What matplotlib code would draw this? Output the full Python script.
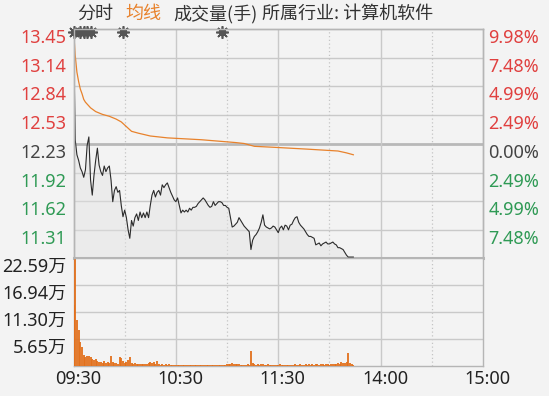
import numpy as np
import matplotlib.pyplot as plt
from matplotlib.transforms import ScaledTranslation

plt.rcParams['font.family'] = ['Noto Sans', 'Noto Sans CJK SC', 'DejaVu Sans']

# 分时价格, 每分钟一个点 (09:30 起)
price = [13.45, 12.27, 12.11, 12.05, 11.97, 11.93, 11.87, 11.95, 12.21, 12.30,
         11.84, 11.68, 11.89, 12.05, 12.18, 12.00, 11.93, 11.89, 11.99, 11.93,
         11.97, 11.99, 11.84, 11.61, 11.73, 11.77, 11.71, 11.73, 11.57, 11.45,
         11.52, 11.44, 11.31, 11.22, 11.41, 11.35, 11.44, 11.48, 11.41, 11.50,
         11.44, 11.49, 11.44, 11.50, 11.44, 11.57, 11.68, 11.73, 11.66, 11.71,
         11.73, 11.68, 11.79, 11.76, 11.79, 11.81, 11.76, 11.71, 11.67, 11.63,
         11.61, 11.65, 11.57, 11.49, 11.52, 11.50, 11.52, 11.50, 11.54, 11.52,
         11.55, 11.55, 11.56, 11.59, 11.61, 11.63, 11.65, 11.63, 11.60, 11.57,
         11.55, 11.56, 11.61, 11.57, 11.59, 11.61, 11.61, 11.60, 11.57, 11.57,
         11.55, 11.54, 11.44, 11.34, 11.35, 11.37, 11.39, 11.44, 11.41, 11.38,
         11.35, 11.33, 11.31, 11.29, 11.10, 11.20, 11.24, 11.26, 11.29, 11.33,
         11.39, 11.47, 11.36, 11.34, 11.33, 11.32, 11.33, 11.35, 11.34, 11.31,
         11.28, 11.33, 11.35, 11.31, 11.36, 11.35, 11.31, 11.36, 11.37, 11.41,
         11.44, 11.45, 11.39, 11.36, 11.34, 11.32, 11.29, 11.26, 11.24, 11.24,
         11.23, 11.22, 11.15, 11.16, 11.17, 11.14, 11.16, 11.17, 11.18, 11.16,
         11.16, 11.17, 11.18, 11.16, 11.15, 11.12, 11.12, 11.11, 11.10, 11.07,
         11.04, 11.02, 11.02, 11.02, 11.02]

# 成交量 (万手)
volume = [12.8, 22.59, 9.6, 7.5, 5.1, 3.9, 2.3, 1.8, 2.1, 2.1,
          1.9, 1.5, 1.3, 1.4, 1.0, 0.8, 0.8, 0.7, 1.0, 0.7,
          0.9, 0.6, 2.1, 0.8, 0.6, 0.6, 0.5, 1.9, 1.6, 1.0,
          0.6, 0.8, 1.2, 1.9, 0.6, 0.5, 0.6, 0.5, 0.5, 0.5,
          0.4, 0.4, 0.5, 0.4, 0.6, 0.9, 0.6, 0.8, 0.5, 1.0,
          0.4, 0.3, 0.4, 0.3, 0.5, 0.3, 0.4, 0.3, 0.2, 0.3,
          0.3, 0.2, 0.3, 0.2, 0.3, 0.2, 0.3, 0.2, 0.2, 0.3,
          0.2, 0.3, 0.2, 0.2, 0.3, 0.2, 0.2, 0.3, 0.2, 0.2,
          0.3, 0.2, 0.2, 0.3, 0.2, 0.3, 0.2, 0.2, 0.3, 0.3,
          0.4, 0.5, 0.4, 0.6, 0.5, 0.4, 0.5, 0.4, 0.3, 0.3,
          0.3, 0.3, 0.4, 0.3, 3.1, 0.6, 0.4, 0.3, 0.4, 0.3,
          0.5, 0.4, 0.3, 0.3, 0.4, 0.3, 0.3, 0.2, 0.3, 0.3,
          0.3, 0.4, 0.3, 0.3, 0.2, 0.3, 0.3, 0.2, 0.3, 0.3,
          0.4, 0.3, 0.3, 0.4, 0.3, 0.3, 0.4, 0.3, 0.4, 0.3,
          0.4, 0.3, 0.5, 0.4, 0.3, 0.4, 0.5, 0.3, 0.4, 0.4,
          0.3, 0.5, 0.4, 0.4, 0.5, 0.6, 0.5, 0.8, 0.6, 0.7,
          0.8, 2.7, 0.6, 0.4, 0.3]

# 均线
avg_min = [0, 1, 2, 3, 4, 5, 6, 7, 8, 10, 13, 17, 21, 25, 28, 31, 34, 38, 45,
           55, 75, 95, 100, 102, 106, 117, 137, 155, 160, 164]
avg_val = [13.45, 13.17, 12.99, 12.89, 12.81, 12.76, 12.70, 12.67, 12.65, 12.61,
           12.57, 12.54, 12.52, 12.49, 12.46, 12.41, 12.36, 12.34, 12.31, 12.29,
           12.27, 12.24, 12.23, 12.22, 12.20, 12.19, 12.17, 12.15, 12.13, 12.11]

event_min = [0, 4, 6, 8, 10, 29, 87]

price_ticks = [13.45, 13.14, 12.84, 12.53, 12.23, 11.92, 11.62, 11.31]
pct_labels = ['9.98%', '7.48%', '4.99%', '2.49%', '0.00%', '2.49%', '4.99%', '7.48%']
vol_ticks = [22.59, 16.94, 11.30, 5.65]
time_ticks = [0, 60, 120, 180, 240]
time_labels = ['09:30', '10:30', '11:30', '14:00', '15:00']

red, green, gray = '#e0403f', '#2f9a55', '#444444'
tick_colors = [red] * 4 + [gray] + [green] * 3
bg = '#f3f3f3'
grid_c = '#c9c9c9'
fs = 13

fig = plt.figure(figsize=(5.49, 3.96), dpi=100, facecolor=bg)
W, H = 549, 396
ax = fig.add_axes([73.5 / W, 1 - 258 / H, (483 - 73.5) / W, (258 - 29) / H], facecolor=bg)
axv = fig.add_axes([73.5 / W, 1 - 366 / H, (483 - 73.5) / W, (366 - 258) / H], facecolor=bg, sharex=ax)

t = np.arange(len(price))
p_lo, p_hi = 11.01, 13.45

# 价格区
ax.set_ylim(p_lo, p_hi)
ax.set_xlim(0, 240)
for v in price_ticks[1:]:
    lw = 2 if v == 12.23 else 1
    c = '#b8b8b8' if v == 12.23 else grid_c
    ax.axhline(v, color=c, lw=lw, zorder=0)
for m in [60, 120, 180]:
    ax.axvline(m, color=grid_c, lw=1, zorder=0)
    axv.axvline(m, color=grid_c, lw=1, zorder=0)
for m in [30, 90, 150, 210]:
    ax.axvline(m, color='#c4c4c4', lw=0.9, ls=(0, (1, 2)), zorder=0)
    axv.axvline(m, color='#c4c4c4', lw=0.9, ls=(0, (1, 2)), zorder=0)

ax.fill_between(t, price, p_lo, color='#e2e2e2', alpha=0.45, lw=0, zorder=1)
ax.plot(t, price, color='#2b2b2b', lw=0.8, zorder=3)
ax.plot(avg_min, avg_val, color='#e8822c', lw=0.9, zorder=2)
ax.plot(event_min, [13.42] * len(event_min), 'o', color='#555555', ms=4.5,
        clip_on=False, zorder=5)
ax.plot(event_min, [13.42] * len(event_min), marker=(8, 2, 0), ls='none',
        color='#555555', ms=9, mew=1.2, clip_on=False, zorder=5)

ax.set_yticks(price_ticks)
ax.set_yticklabels(['%.2f' % v for v in price_ticks], fontsize=fs)
for lab, c in zip(ax.get_yticklabels(), tick_colors):
    lab.set_color(c)
    lab.set_va('top')
ax.tick_params(axis='y', length=0, pad=5)
ax.tick_params(axis='x', length=0, labelbottom=False)

axr = ax.twinx()
axr.set_ylim(p_lo, p_hi)
axr.set_yticks(price_ticks)
axr.set_yticklabels(pct_labels, fontsize=fs)
for lab, c in zip(axr.get_yticklabels(), tick_colors):
    lab.set_color(c)
    lab.set_va('top')
axr.tick_params(axis='y', length=0, pad=4)

for a in (ax, axr):
    for s in a.spines.values():
        s.set_color('#b5b5b5')
        s.set_linewidth(1)
ax.spines['bottom'].set_linewidth(2.2)

# 成交量区
axv.vlines(t, 0, volume, color='#e2701c', lw=1.3, zorder=3)
axv.set_ylim(0, 22.59)
for v in vol_ticks[1:]:
    axv.axhline(v, color=grid_c, lw=1, zorder=0)
axv.set_yticks(vol_ticks)
axv.set_yticklabels(['%.2f万' % v for v in vol_ticks], fontsize=fs, color='#222222')
for lab in axv.get_yticklabels():
    lab.set_va('top')
axv.tick_params(axis='y', length=0, pad=5)
axv.set_xticks(time_ticks)
axv.set_xticklabels(time_labels, fontsize=fs, color='#222222')
axv.tick_params(axis='x', length=0, pad=3)
shift = ScaledTranslation(4.5 / 100, 0, fig.dpi_scale_trans)
for lab in axv.get_xticklabels():
    lab.set_transform(lab.get_transform() + shift)
for s in axv.spines.values():
    s.set_color('#b5b5b5')
    s.set_linewidth(1)
axv.spines['top'].set_visible(False)

# 顶部图例文字
hdr_y = 1 - 14 / H
hdr = dict(fontsize=13, va='center', family=['Noto Sans CJK SC', 'DejaVu Sans'])
fig.text(77 / W, hdr_y, '分时', color='#333333', **hdr)
fig.text(125 / W, hdr_y, '均线', color='#e8822c', **hdr)
fig.text(173 / W, hdr_y, '成交量(手)', color='#333333', **hdr)
fig.text(262 / W, hdr_y, '所属行业: 计算机软件', color='#333333', **hdr)

fig.savefig('out.png', dpi=100, facecolor=bg)
